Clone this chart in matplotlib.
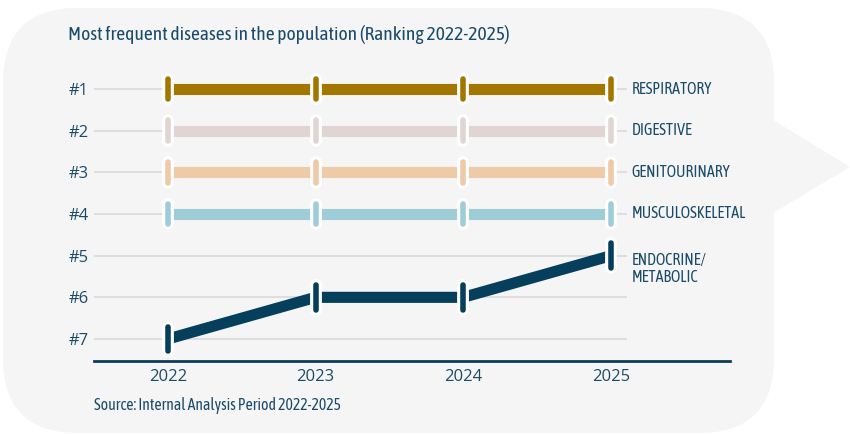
import matplotlib
matplotlib.use('Agg')
import matplotlib.pyplot as plt
from matplotlib.patches import FancyBboxPatch, Polygon

# Datos del ranking
years = [2022, 2023, 2024, 2025]
categories = ['RESPIRATORY', 'DIGESTIVE', 'GENITOURINARY', 'MUSCULOSKELETAL', 'ENDOCRINE/\nMETABOLIC']
ranks = [
    [1, 1, 1, 1],
    [2, 2, 2, 2],
    [3, 3, 3, 3],
    [4, 4, 4, 4],
    [7, 6, 6, 5],
]
rank_labels = ['#1', '#2', '#3', '#4', '#5', '#6', '#7']
colors = ['#a37600', '#e0d5d3', '#eecaa7', '#9fcdd7', '#053f5c']

text_color = '#1b4b6a'
narrow = ['Asap Condensed', 'DejaVu Sans']
W, H = 850, 434

fig = plt.figure(figsize=(8.5, 4.34), dpi=100)
fig.patch.set_facecolor('white')

# Fondo tipo globo
bg = fig.add_axes([0, 0, 1, 1])
bg.set_xlim(0, W)
bg.set_ylim(0, H)
bg.axis('off')
bg.add_patch(FancyBboxPatch((3, 1), 771, 425, boxstyle='round,pad=0,rounding_size=75',
                            facecolor='#f5f5f5', edgecolor='none'))
bg.add_patch(Polygon([(773, 314), (850, 267), (773, 221)], closed=True,
                     facecolor='#f5f5f5', edgecolor='none'))

# Grafico principal
ax = fig.add_axes([94 / W, (H - 361) / H, (730 - 94) / W, 301 / H])
ax.set_facecolor('none')
ax.set_xlim(2021.5, 2025.806)
ax.set_ylim(7.528, 0.304)

for s in ['top', 'right', 'left']:
    ax.spines[s].set_visible(False)
ax.spines['bottom'].set_color('#0b3d5a')
ax.spines['bottom'].set_linewidth(2)

ax.set_yticks(range(1, 8))
ax.set_yticklabels(rank_labels)
ax.set_xticks(years)
ax.set_xticklabels([str(y) for y in years])
ax.tick_params(axis='both', length=0, colors=text_color, labelsize=12)
ax.tick_params(axis='y', pad=4)
ax.tick_params(axis='x', pad=6)
for lab in ax.get_xticklabels() + ax.get_yticklabels():
    lab.set_fontfamily('Open Sans')

ax.hlines(range(1, 8), 2021.5, 2025.11, color='#dcdcdc', lw=1.3, zorder=1)

for cat, r, c in zip(categories, ranks, colors):
    ax.plot(years, r, color=c, lw=8, solid_capstyle='butt', solid_joinstyle='miter', zorder=3)
    h = 0.3 if cat.startswith('ENDO') else 0.25
    for x, y in zip(years, r):
        ax.plot([x, x], [y - h, y + h], color='white', lw=8.5, solid_capstyle='round', zorder=4)
        ax.plot([x, x], [y - h, y + h], color=c, lw=4, solid_capstyle='round', zorder=5)
    if cat.startswith('ENDO'):
        ax.text(years[-1] + 0.14, r[-1] - 0.08, cat, va='top', ha='left', color=text_color,
                fontsize=11.5, family=narrow, linespacing=1.0)
    else:
        ax.text(years[-1] + 0.14, r[-1], cat, va='center', ha='left', color=text_color,
                fontsize=11.5, family=narrow)

fig.text(68 / W, 1 - 35 / H, 'Most frequent diseases in the population (Ranking 2022-2025)',
         ha='left', va='center', color=text_color, fontsize=14, family=narrow)
fig.text(94 / W, 1 - 405 / H, 'Source: Internal Analysis Period 2022-2025',
         ha='left', va='center', color=text_color, fontsize=11.3, family=narrow)

fig.savefig('out.png', dpi=100, facecolor='white')
